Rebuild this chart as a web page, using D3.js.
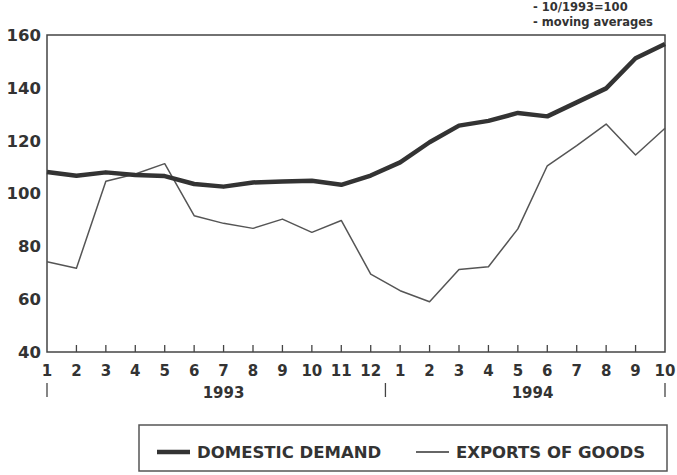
<!DOCTYPE html>
<html>
<head>
<meta charset="utf-8">
<script src="https://cdn.jsdelivr.net/npm/d3@7"></script>
<style>
  body { margin: 0; background: #fff; }
  svg text { font-family: "DejaVu Sans", sans-serif; font-weight: bold; fill: #333; }
</style>
</head>
<body>
<svg id="chart" width="677" height="475"></svg>
<script>
// months Jan 1993 .. Oct 1994
var months = ["1","2","3","4","5","6","7","8","9","10","11","12",
              "1","2","3","4","5","6","7","8","9","10"];
var years = [{ label: "1993", from: 0, to: 11 }, { label: "1994", from: 12, to: 21 }];
var domesticDemand = [108.1, 106.7, 108, 107, 106.6, 103.6, 102.6, 104.2, 104.5, 104.8, 103.3, 106.8,
                      111.8, 119.4, 125.7, 127.5, 130.5, 129.2, 134.5, 139.8, 151.2, 156.6];
var exportsOfGoods = [74.2, 71.7, 104.6, 107.4, 111.3, 91.6, 88.7, 86.8, 90.3, 85.3, 89.8, 69.5,
                      63.2, 59, 71.2, 72.3, 86.6, 110.5, 118.1, 126.3, 114.6, 124.7];
var yTicks = [40, 60, 80, 100, 120, 140, 160];
var notes = ["- 10/1993=100", "- moving averages"];
var legendItems = [
    { name: "DOMESTIC DEMAND", width: 4.5 },
    { name: "EXPORTS OF GOODS", width: 1.5 }
];

var margin = { top: 35, right: 12, bottom: 123, left: 47 },
    width = 677 - margin.left - margin.right,
    height = 475 - margin.top - margin.bottom;

var svg = d3.select("#chart");
var g = svg.append("g")
    .attr("transform", "translate(" + margin.left + "," + margin.top + ")");

var x = d3.scaleLinear().domain([0, months.length - 1]).range([0, width]);
var y = d3.scaleLinear().domain([40, 160]).range([height, 0]);

// frame
g.append("rect")
    .attr("width", width).attr("height", height)
    .attr("fill", "none").attr("stroke", "#444").attr("stroke-width", 1.5);

// y labels
g.selectAll(".ylab")
    .data(yTicks)
    .enter().append("text")
    .attr("class", "ylab")
    .attr("x", -6)
    .attr("y", function (d) { return y(d); })
    .attr("dy", ".36em")
    .style("text-anchor", "end")
    .style("font-size", "16.5px")
    .text(function (d) { return d; });

// month ticks (inside, pointing up)
g.selectAll(".mtick")
    .data(months.slice(1, -1))
    .enter().append("line")
    .attr("x1", function (d, i) { return x(i + 1); })
    .attr("x2", function (d, i) { return x(i + 1); })
    .attr("y1", height).attr("y2", height - 7)
    .attr("stroke", "#444").attr("stroke-width", 1.3);

g.selectAll(".mlab")
    .data(months)
    .enter().append("text")
    .attr("x", function (d, i) { return x(i); })
    .attr("y", height + 24)
    .style("text-anchor", "middle")
    .style("font-size", "15px")
    .text(function (d) { return d; });

// year separators and labels
var seps = [0, 11.5, months.length - 1];
g.selectAll(".sep")
    .data(seps)
    .enter().append("line")
    .attr("x1", function (d) { return x(d); })
    .attr("x2", function (d) { return x(d); })
    .attr("y1", height + 31).attr("y2", height + 45)
    .attr("stroke", "#444").attr("stroke-width", 1.3);

g.selectAll(".year")
    .data(years)
    .enter().append("text")
    .attr("x", function (d) { return x((d.from + d.to) / 2 + (d.from ? 0 : 0.5)); })
    .attr("y", height + 46)
    .style("text-anchor", "middle")
    .style("font-size", "15px")
    .text(function (d) { return d.label; });

// lines
var line = d3.line()
    .x(function (d, i) { return x(i); })
    .y(function (d) { return y(d); });

g.append("path")
    .datum(exportsOfGoods)
    .attr("d", line)
    .attr("fill", "none").attr("stroke", "#555").attr("stroke-width", 1.5)
    .attr("stroke-linejoin", "round");

g.append("path")
    .datum(domesticDemand)
    .attr("d", line)
    .attr("fill", "none").attr("stroke", "#333").attr("stroke-width", 4.5)
    .attr("stroke-linejoin", "round");

// notes top right
svg.selectAll(".note")
    .data(notes)
    .enter().append("text")
    .attr("x", 533)
    .attr("y", function (d, i) { return 11 + i * 15; })
    .style("font-size", "11.5px")
    .text(function (d) { return d; });

// legend
var lg = svg.append("g").attr("transform", "translate(139,425)");
lg.append("rect")
    .attr("width", 528).attr("height", 46)
    .attr("fill", "none").attr("stroke", "#555").attr("stroke-width", 1.5);

var item = lg.selectAll(".item")
    .data(legendItems)
    .enter().append("g")
    .attr("transform", function (d, i) { return "translate(" + (18 + i * 259) + ",27)"; });

item.append("line")
    .attr("x1", 0).attr("x2", 33)
    .attr("stroke", "#333")
    .attr("stroke-width", function (d) { return d.width; });

item.append("text")
    .attr("x", 40)
    .attr("dy", ".36em")
    .style("font-size", "16.5px")
    .text(function (d) { return d.name; });
</script>
</body>
</html>
